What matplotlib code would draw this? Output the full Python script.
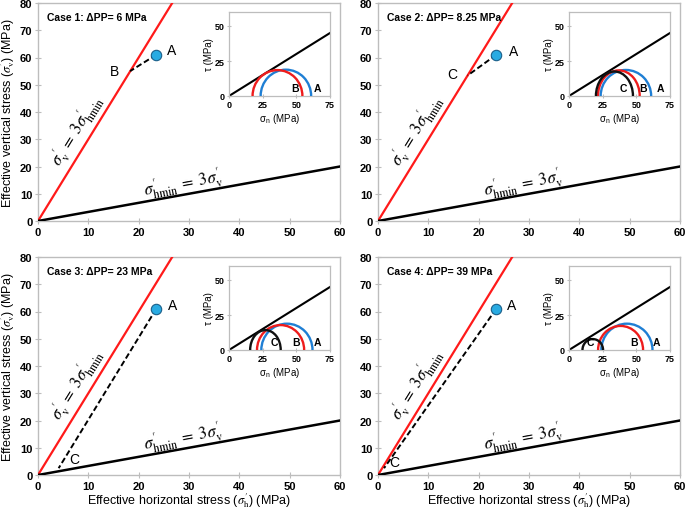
import numpy as np
import matplotlib
matplotlib.use("Agg")
import matplotlib.pyplot as plt
from matplotlib.patches import Arc

plt.rcParams['font.family'] = ['Liberation Sans', 'DejaVu Sans']
plt.rcParams['mathtext.fontset'] = 'stix'

# ---------------- data ----------------
case_titles = ["Case 1: ΔPP= 6 MPa", "Case 2: ΔPP= 8.25 MPa",
               "Case 3: ΔPP= 23 MPa", "Case 4: ΔPP= 39 MPa"]
point_a_sh = 23.5
point_a_sv = 61.0
end_sh = [18.3, 17.8, 4.1, 1.2]
end_sv = [55.0, 53.4, 2.5, 2.5]
end_labels = ["B", "C", "C", "C"]
ratio = 3.0                      # sigma_v' = 3 sigma_hmin'  and  sigma_hmin' = 3 sigma_v'
main_xticks = [0, 10, 20, 30, 40, 50, 60]
main_yticks = [0, 10, 20, 30, 40, 50, 60, 70, 80]

# Mohr circles in insets: (label, sigma3, sigma1, peak tau)
circle_labels = [["A", "B"], ["A", "B", "C"], ["A", "B", "C"], ["A", "B", "C"]]
circle_s3 = [[23.5, 17.5], [23.5, 21.5, 20.0], [24.0, 20.8, 15.7], [24.0, 21.6, 10.0]]
circle_s1 = [[61.0, 54.5], [61.0, 52.5, 47.5], [62.0, 55.8, 38.4], [62.0, 55.0, 25.3]]
circle_peak = [[18.8, 18.5], [18.6, 18.3, 17.5], [18.8, 17.8, 14.2], [18.8, 17.2, 7.8]]
circle_text_x = [[65.6, 49.0], [68.0, 55.2, 40.3], [66.0, 49.5, 34.0], [65.0, 48.5, 15.6]]
fail_x = [0, 75]
fail_tau = [0, 45]
inset_xticks = [0, 25, 50, 75]
inset_yticks = [0, 25, 50]

colors = {"A": "#1f7fd4", "B": "#ee1c1c", "C": "#111111"}
grey = "#bdbdbd"

# ---------------- layout ----------------
W, H = 685, 510
fig = plt.figure(figsize=(W / 100, H / 100), dpi=100)

def fr(x0, y0, x1, y1):
    return [x0 / W, 1 - y1 / H, (x1 - x0) / W, (y1 - y0) / H]

main_boxes = [fr(38, 4, 340, 222), fr(378, 4, 680, 222),
              fr(38, 258, 340, 476), fr(378, 258, 680, 476)]
inset_boxes = [fr(229, 13, 330, 97), fr(569, 13, 670, 97),
               fr(229, 267, 330, 351), fr(569, 267, 670, 351)]

red_lab = (7.6, 33.5)
blk_lab = (28.8, 13.9)
a_lab = [(25.6, 62.9), (26.0, 62.5), (25.8, 62.5), (25.6, 62.5)]
e_lab = [(16.1, 55.2), (15.8, 54.0), (7.2, 5.9), (3.2, 4.7)]
e_ha = ["right", "right", "center", "center"]

red_txt = r"$\sigma^{\prime}_{\mathrm{v}}\;=\;3\sigma^{\prime}_{\mathrm{hmin}}$"
blk_txt = r"$\sigma^{\prime}_{\mathrm{hmin}}\;=\;3\sigma^{\prime}_{\mathrm{v}}$"

for i in range(4):
    ax = fig.add_axes(main_boxes[i])
    ax.set_xlim(0, 60)
    ax.set_ylim(0, 80)
    ax.set_xticks(main_xticks)
    ax.set_yticks(main_yticks)
    for s in ax.spines.values():
        s.set_color(grey)
        s.set_linewidth(1.0)
    ax.tick_params(direction='inout', length=4, color=grey, labelsize=8, pad=2)
    for lab in ax.get_xticklabels() + ax.get_yticklabels():
        lab.set_fontweight('bold')

    # failure-limit lines
    xs = np.array([0, 80 / ratio])
    ax.plot(xs, ratio * xs, color="#ff1a1a", lw=1.6, zorder=3)
    xs2 = np.array([0, 60])
    ax.plot(xs2, xs2 / ratio, color="black", lw=1.8, zorder=3)

    ax.text(red_lab[0], red_lab[1], red_txt,
            rotation=np.degrees(np.arctan(ratio)), transform_rotates_text=True,
            rotation_mode='anchor', ha='center', va='center', fontsize=12)
    ax.text(blk_lab[0], blk_lab[1], blk_txt,
            rotation=np.degrees(np.arctan(1 / ratio)), transform_rotates_text=True,
            rotation_mode='anchor', ha='center', va='center', fontsize=12)

    # stress path
    ax.plot([point_a_sh, end_sh[i]], [point_a_sv, end_sv[i]], ls='--', color='black',
            lw=1.4, dashes=(3, 1.5), zorder=4)
    ax.plot([point_a_sh], [point_a_sv], 'o', ms=7.5, mfc="#29abe2", mec="#1a5f8a",
            mew=0.8, zorder=5)
    ax.text(a_lab[i][0], a_lab[i][1], "A", fontsize=10, ha='left', va='center')
    ax.text(e_lab[i][0], e_lab[i][1], end_labels[i], fontsize=10, ha=e_ha[i], va='center')

    ax.text(1.8, 75.0, case_titles[i], fontsize=7.5, fontweight='bold', ha='left', va='center')

    if i in (0, 2):
        ax.set_ylabel(r"Effective vertical stress ($\sigma^{\prime}_{\mathrm{v}}$) (MPa)",
                      fontsize=9, labelpad=2)
    if i in (2, 3):
        ax.set_xlabel(r"Effective horizontal stress ($\sigma^{\prime}_{\mathrm{h}}$) (MPa)",
                      fontsize=9, labelpad=0)

    # inset Mohr diagram
    ia = fig.add_axes(inset_boxes[i])
    ia.set_xlim(0, 75)
    ia.set_ylim(0, 60)
    ia.set_xticks(inset_xticks)
    ia.set_yticks(inset_yticks)
    for s in ia.spines.values():
        s.set_color(grey)
        s.set_linewidth(0.9)
    ia.tick_params(direction='inout', length=3, color=grey, labelsize=6.5, pad=1.5)
    for lab in ia.get_xticklabels() + ia.get_yticklabels():
        lab.set_fontweight('bold')
    ia.plot(fail_x, fail_tau, color='black', lw=1.5, zorder=2)
    for lab, s3, s1, pk, tx in zip(circle_labels[i], circle_s3[i], circle_s1[i],
                                    circle_peak[i], circle_text_x[i]):
        c = colors[lab]
        ia.add_patch(Arc(((s3 + s1) / 2, 0), s1 - s3, 2 * pk, theta1=0, theta2=180,
                         color=c, lw=1.7, zorder=3))
        ia.text(tx, 5.5, lab, fontsize=7.5, fontweight='bold', ha='center', va='center')
    ia.set_ylabel("τ (MPa)", fontsize=7, labelpad=1)
    ia.set_xlabel("σ$_{\\mathregular{n}}$ (MPa)", fontsize=7, labelpad=1)

fig.savefig("out.png", dpi=100)
